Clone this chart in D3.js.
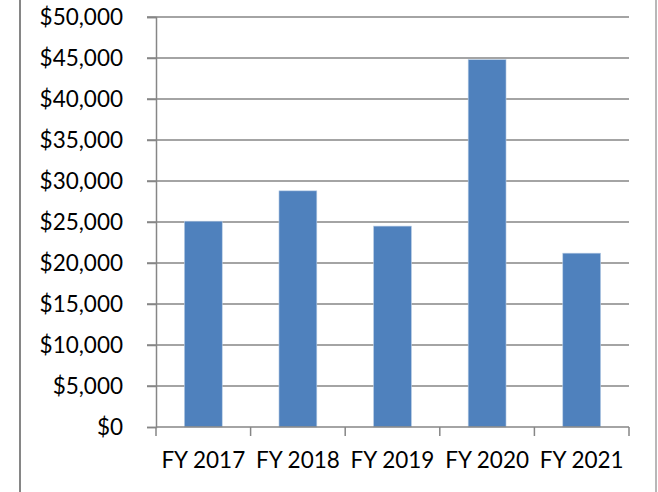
<!DOCTYPE html>
<html>
<head>
<meta charset="utf-8">
<script src="https://cdn.jsdelivr.net/npm/d3@7"></script>
<style>
  html, body { margin: 0; padding: 0; background: #fff; }
  svg { display: block; }
  text { font-family: Lato, "Open Sans", sans-serif; fill: #000; }
</style>
</head>
<body>
<svg id="chart" width="658" height="492"></svg>
<script>
const categories = ["FY 2017", "FY 2018", "FY 2019", "FY 2020", "FY 2021"];
const values = [25100, 28800, 24500, 44800, 21200];
const yTicks = [0, 5000, 10000, 15000, 20000, 25000, 30000, 35000, 40000, 45000, 50000];

const svg = d3.select("#chart");
const W = 658, H = 492;
const plot = { left: 156, right: 629, top: 17, bottom: 427 };
const gridColor = "#868686";
const fontSize = 22.5;

// chart frame (left and right borders)
svg.append("line").attr("x1", 20).attr("x2", 20).attr("y1", 0).attr("y2", H)
  .attr("stroke", gridColor).attr("stroke-width", 2);
svg.append("line").attr("x1", 656).attr("x2", 656).attr("y1", 0).attr("y2", H)
  .attr("stroke", "#a0a0a0").attr("stroke-width", 1.5);

const xBand = d3.scaleBand().domain(categories).range([plot.left, plot.right]).padding(0);
const y = d3.scaleLinear().domain([0, 50000]).range([plot.bottom, plot.top]);

const fmt = d => "$" + d3.format(",")(d);

// gridlines
svg.append("g").selectAll("line").data(yTicks.filter(d => d > 0)).join("line")
  .attr("x1", plot.left - 9).attr("x2", plot.right)
  .attr("y1", d => y(d)).attr("y2", d => y(d))
  .attr("stroke", gridColor).attr("stroke-width", 1.5);

// bars
const barW = xBand.bandwidth() / 2.5;
svg.append("g").selectAll("rect").data(values).join("rect")
  .attr("x", (d, i) => xBand(categories[i]) + (xBand.bandwidth() - barW) / 2)
  .attr("width", barW)
  .attr("y", d => y(d))
  .attr("height", d => y(0) - y(d))
  .attr("fill", "#4F81BD")
  .attr("stroke", "#b9cde5").attr("stroke-width", 0.6);

// y axis
const yAxis = svg.append("g").attr("transform", `translate(${plot.left},0)`)
  .call(d3.axisLeft(y).tickValues(yTicks).tickFormat(fmt).tickSize(9).tickPadding(24));
yAxis.select(".domain").attr("stroke", gridColor).attr("stroke-width", 1.5);
yAxis.selectAll(".tick line").attr("stroke", gridColor).attr("stroke-width", 1.5);
yAxis.selectAll(".tick text").attr("font-size", fontSize).attr("font-family", "Lato, sans-serif").attr("fill", "#000");

// x axis
const boundaries = [plot.left].concat(categories.map(c => xBand(c) + xBand.bandwidth()));
const xg = svg.append("g");
xg.append("line").attr("x1", plot.left).attr("x2", plot.right).attr("y1", y(0)).attr("y2", y(0))
  .attr("stroke", gridColor).attr("stroke-width", 1.5);
xg.selectAll("line.tk").data(boundaries).join("line").attr("class", "tk")
  .attr("x1", d => d).attr("x2", d => d).attr("y1", y(0)).attr("y2", y(0) + 9)
  .attr("stroke", gridColor).attr("stroke-width", 1.5);
xg.selectAll("text").data(categories).join("text")
  .attr("x", d => xBand(d) + xBand.bandwidth() / 2)
  .attr("y", 468)
  .attr("text-anchor", "middle")
  .attr("font-size", fontSize)
  .text(d => d);
</script>
</body>
</html>
